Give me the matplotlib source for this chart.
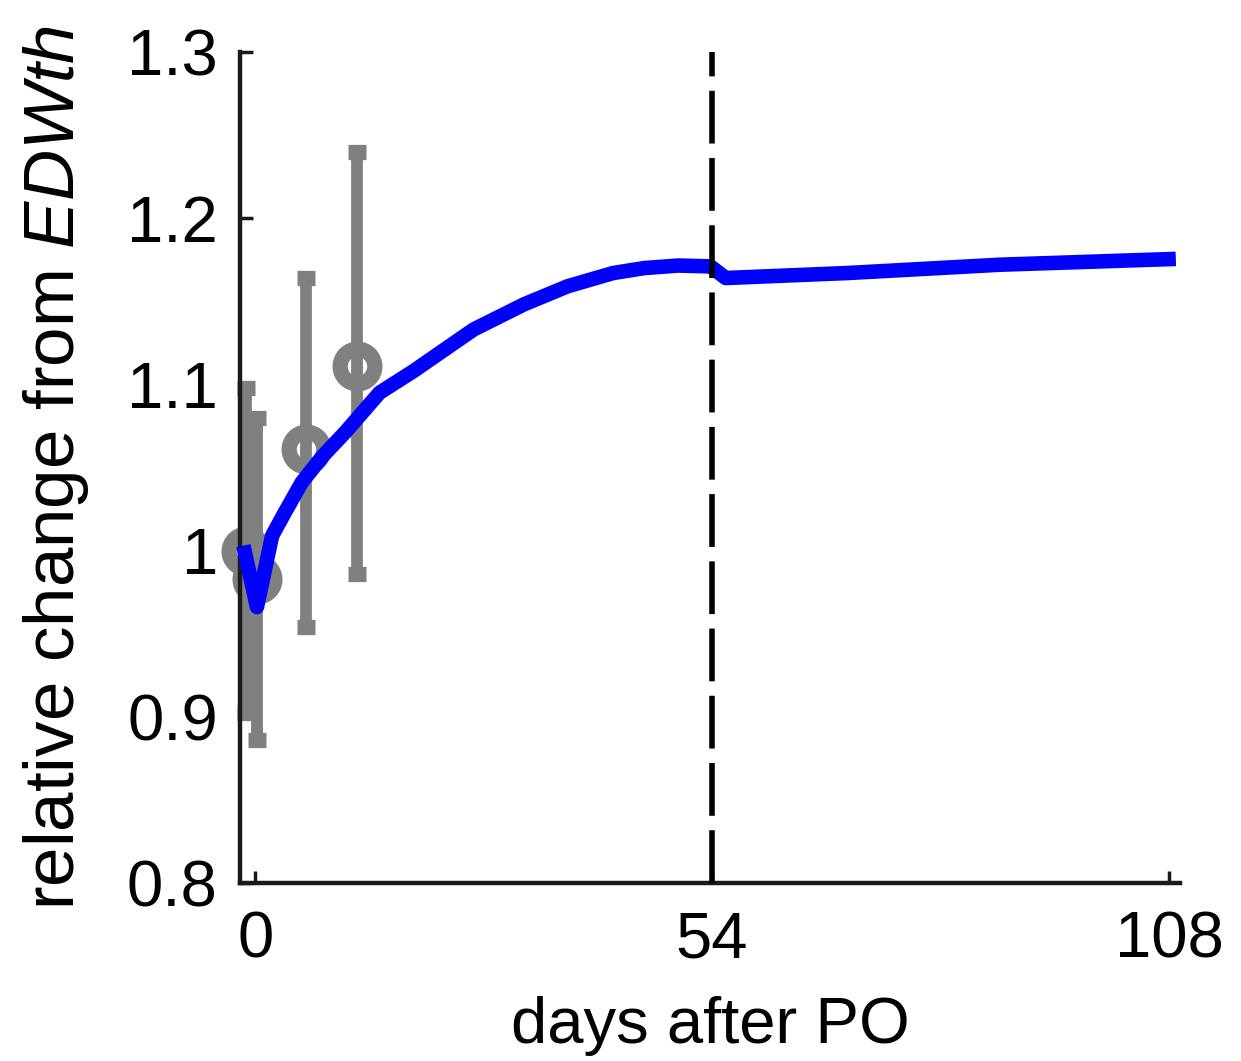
import matplotlib
matplotlib.use("Agg")
import matplotlib.pyplot as plt

# ---- data ----
obs_days = [-1.1, 0.2, 6.0, 12.0]
obs_mean = [1.000, 0.983, 1.061, 1.111]
obs_low = [0.902, 0.886, 0.954, 0.986]
obs_high = [1.098, 1.080, 1.164, 1.240]

model_days = [-1.4, 0.2, 2.0, 3.5, 5.5, 8.0, 10.6, 14.7, 18.7, 25.8, 31.7,
              36.9, 42.3, 46.0, 50.0, 53.8, 55.6, 70.0, 88.0, 108.8]
model_vals = [1.003, 0.966, 1.009, 1.023, 1.041, 1.057, 1.071, 1.095, 1.108,
              1.133, 1.148, 1.159, 1.167, 1.170, 1.1715, 1.171, 1.164, 1.167,
              1.172, 1.1755]

vline_day = 54
xticks = [0, 54, 108]
yticks = [0.8, 0.9, 1.0, 1.1, 1.2, 1.3]
ytick_labels = ["0.8", "0.9", "1", "1.1", "1.2", "1.3"]

# ---- style ----
plt.rcParams["font.family"] = ["Liberation Sans", "DejaVu Sans"]
plt.rcParams["mathtext.fontset"] = "custom"
plt.rcParams["mathtext.it"] = "Liberation Sans:italic"
plt.rcParams["mathtext.rm"] = "Liberation Sans"

fig = plt.figure(figsize=(12.41, 10.61), dpi=100)
ax = fig.add_axes([0.1934, 0.1678, 0.9509 - 0.1934, 0.951 - 0.1678])

gray = (0.5, 0.5, 0.5)
yerr = [[m - lo for m, lo in zip(obs_mean, obs_low)],
        [hi - m for m, hi in zip(obs_mean, obs_high)]]
ax.errorbar(obs_days, obs_mean, yerr=yerr, fmt="o", color=gray,
            ecolor=gray, elinewidth=8.5, capsize=6.5, capthick=9,
            markersize=25, markerfacecolor="none", markeredgecolor=gray,
            markeredgewidth=11, zorder=2, clip_on=False)

ax.plot(model_days, model_vals, color=(0, 0, 1), lw=10.5, zorder=3,
        solid_joinstyle="round", solid_capstyle="butt", clip_on=False)

ax.axvline(vline_day, color="black", lw=4, dashes=(9.5, 2.6), zorder=4)

ax.set_xlim(-1.8, 109.3)
ax.set_ylim(0.8, 1.3)
ax.set_xticks(xticks)
ax.set_xticklabels([str(t) for t in xticks])
ax.set_yticks(yticks)
ax.set_yticklabels(ytick_labels)

for s in ["top", "right"]:
    ax.spines[s].set_visible(False)
for s in ["left", "bottom"]:
    ax.spines[s].set_linewidth(3.2)
    ax.spines[s].set_color("#1a1a1a")

ax.tick_params(direction="in", length=9, width=2.5, labelsize=47,
               color="#1a1a1a")
ax.tick_params(axis="y", pad=16)
ax.tick_params(axis="x", pad=20)

ax.set_xlabel("days after PO", fontsize=47, labelpad=18)
ax.set_ylabel(r"relative change from $\mathit{EDWth}$", fontsize=51,
              labelpad=26)

fig.savefig("out.png", dpi=100)
